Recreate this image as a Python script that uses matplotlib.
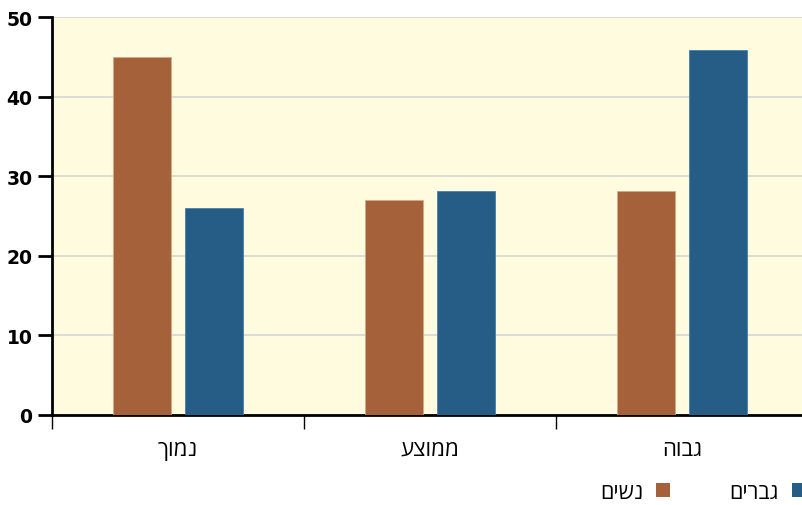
import matplotlib.pyplot as plt
import numpy as np

# income level categories and share per group (%)
categories = ["נמוך", "ממוצע", "גבוה"]
women = [45.0, 27.0, 28.2]
men = [26.0, 28.2, 45.9]
series_names = ["נשים", "גברים"]

BROWN = "#a5623a"
BLUE = "#255d87"
HEB = ['Open Sans', 'DejaVu Sans']


def rtl(s):
    # matplotlib draws left-to-right, so flip Hebrew strings
    return s[::-1]


plt.rcParams['font.family'] = ['DejaVu Sans']
fig = plt.figure(figsize=(8.03, 5.06), dpi=100)
ax = fig.add_axes([52 / 803, 90 / 506, 756 / 803, 398 / 506])
ax.set_facecolor("#fefbdf")

x = np.arange(len(categories))
w = 0.227
off = 0.143
ax.bar(x - off, women, w, color=BROWN, edgecolor="#d8a983", linewidth=0.6,
       label=rtl(series_names[0]), zorder=3)
ax.bar(x + off, men, w, color=BLUE, edgecolor="#4a7ea6", linewidth=0.6,
       label=rtl(series_names[1]), zorder=3)

ax.set_xlim(-0.5, 2.5)
ax.set_ylim(0, 50)
ax.set_yticks([0, 10, 20, 30, 40, 50])
ax.yaxis.grid(True, color="#d6d6d6", linewidth=1.2, zorder=0)

for lab in ax.get_yticklabels():
    lab.set_fontweight("bold")
ax.tick_params(axis="y", length=10, width=2, labelsize=13.5, pad=4)

# category boundaries as minor ticks, labels centered on major ones
ax.set_xticks(x)
ax.set_xticklabels([rtl(c) for c in categories], fontsize=16, family=HEB)
ax.tick_params(axis="x", which="major", length=0, pad=17)
ax.set_xticks([-0.5, 0.5, 1.5], minor=True)
ax.tick_params(axis="x", which="minor", length=10, width=1)

for side in ["top", "right"]:
    ax.spines[side].set_visible(False)
ax.spines["left"].set_linewidth(2)
ax.spines["bottom"].set_linewidth(2)

leg = fig.legend(loc="lower right", bbox_to_anchor=(1.027, -0.034), ncol=2,
                 frameon=False, markerfirst=False,
                 prop={'family': HEB, 'size': 15.5},
                 handlelength=0.64, handleheight=0.64, columnspacing=2.75,
                 handletextpad=0.6)
for h in leg.legend_handles:
    h.set_edgecolor("none")

fig.savefig("out.png", dpi=100)
